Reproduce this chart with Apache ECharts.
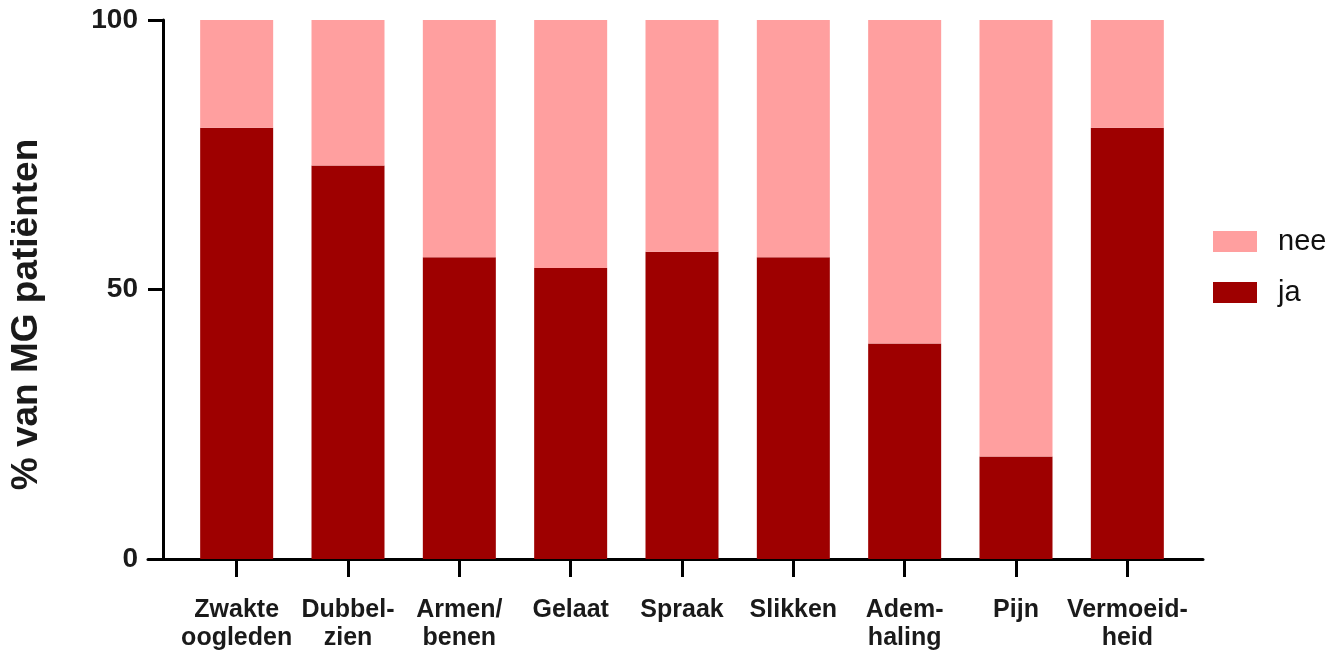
<!DOCTYPE html>
<html>
<head>
<meta charset="utf-8">
<script src="https://cdn.jsdelivr.net/npm/echarts@6/dist/echarts.min.js"></script>
<style>
  html, body { margin: 0; padding: 0; background: #fff; }
  #chart { width: 1342px; height: 654px; }
</style>
</head>
<body>
<div id="chart"></div>
<script>
// categorieën (klachten)
const categories = [
  'Zwakte\noogleden', 'Dubbel-\nzien', 'Armen/\nbenen', 'Gelaat', 'Spraak',
  'Slikken', 'Adem-\nhaling', 'Pijn', 'Vermoeid-\nheid'
];
// percentage "ja"
const jaValues = [80, 73, 56, 54, 57, 56, 40, 19, 80];
// percentage "nee"
const neeValues = [20, 27, 44, 46, 43, 44, 60, 81, 20];
// y-as labels
const yTicks = [0, 50, 100];

const FONT = 'Liberation Sans, Arial, sans-serif';
const chart = echarts.init(document.getElementById('chart'));

chart.setOption({
  animation: false,
  legend: {
    orient: 'vertical',
    left: 1208,
    top: 222,
    itemWidth: 44,
    itemHeight: 21,
    itemGap: 22,
    icon: 'rect',
    data: ['nee', 'ja'],
    textStyle: { fontFamily: FONT, fontSize: 29, color: '#111', padding: [0, 0, 0, 16] }
  },
  grid: [
    // grid met de staven
    { left: 181, right: 159, top: 20, bottom: 95 },
    // grid alleen voor de doorlopende x-as lijn
    { left: 148, right: 139, top: 20, bottom: 95 }
  ],
  xAxis: [
    {
      type: 'category',
      gridIndex: 0,
      data: categories,
      axisLine: { show: false },
      axisTick: { show: true, alignWithLabel: true, length: 18, lineStyle: { color: '#000', width: 3 } },
      axisLabel: {
        interval: 0,
        margin: 37,
        fontFamily: FONT,
        fontSize: 25,
        fontWeight: 'bold',
        color: '#1a1a1a',
        lineHeight: 28,
        verticalAlign: 'top'
      }
    },
    {
      type: 'value',
      gridIndex: 1,
      min: 0,
      max: 1,
      axisLine: { show: true, lineStyle: { color: '#000', width: 3 } },
      axisTick: { show: false },
      axisLabel: { show: false },
      splitLine: { show: false }
    }
  ],
  yAxis: [
    {
      type: 'value',
      gridIndex: 0,
      min: 0,
      max: 100,
      interval: 50,
      offset: 18,
      name: '% van MG patiënten',
      nameLocation: 'middle',
      nameGap: 118,
      nameTextStyle: {
        fontFamily: FONT, fontSize: 37, fontWeight: 'bold', color: '#1a1a1a',
        padding: [0, 50, 0, 0]
      },
      axisLine: { show: true, lineStyle: { color: '#000', width: 3 } },
      axisTick: { show: true, length: 15, lineStyle: { color: '#000', width: 3 } },
      axisLabel: {
        margin: 25,
        fontFamily: FONT,
        fontSize: 28,
        fontWeight: 'bold',
        color: '#1a1a1a',
        customValues: yTicks
      },
      splitLine: { show: false }
    },
    {
      type: 'value',
      gridIndex: 1,
      min: 0,
      max: 1,
      show: false
    }
  ],
  series: [
    {
      name: 'ja',
      type: 'bar',
      stack: 'totaal',
      xAxisIndex: 0,
      yAxisIndex: 0,
      barWidth: 73,
      itemStyle: { color: '#9e0000' },
      data: jaValues
    },
    {
      name: 'nee',
      type: 'bar',
      stack: 'totaal',
      xAxisIndex: 0,
      yAxisIndex: 0,
      barWidth: 73,
      itemStyle: { color: '#ff9f9f' },
      data: neeValues
    }
  ]
});
</script>
</body>
</html>
